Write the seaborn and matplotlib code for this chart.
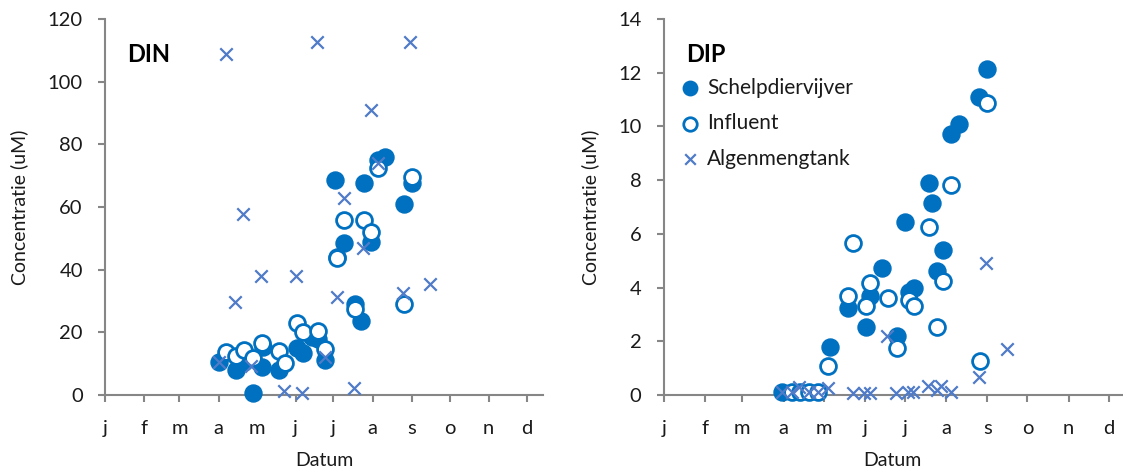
import matplotlib
matplotlib.use("Agg")
import matplotlib.pyplot as plt
import seaborn as sns
import pandas as pd

# ---------------- data (day of year, concentration uM) ----------------
months = ["j", "f", "m", "a", "m", "j", "j", "a", "s", "o", "n", "d"]
month_start = [0, 31, 59, 90, 120, 151, 181, 212, 243, 273, 304, 334]

din_schelp_day = [90, 104, 110, 117.5, 124, 125, 138, 152, 157, 164, 169, 174,
                  182, 184, 189.5, 198, 202.5, 205, 210.4, 216.5, 222, 237, 243]
din_schelp_val = [10.6, 8.0, 10.6, 0.5, 9.0, 15.3, 8.0, 14.9, 13.3, 18.6, 17.8, 11.2,
                  68.6, 44.2, 48.6, 29.0, 23.7, 67.8, 48.9, 75.0, 76.1, 60.8, 67.8]
din_infl_day = [96, 104, 110, 117.5, 124, 138, 142.6, 152, 156.6, 169, 174,
                184, 189.5, 198, 205, 210.4, 216.5, 237, 243]
din_infl_val = [13.8, 12.4, 14.4, 11.7, 16.7, 14.1, 10.1, 22.9, 20.0, 20.5, 14.6,
                43.6, 55.9, 27.3, 55.9, 51.9, 72.6, 28.9, 69.5]
din_algen_day = [90, 95.8, 102.7, 109.6, 116, 123.6, 141.8, 151.5, 155.8, 168, 174,
                 183.5, 189, 197.2, 204.6, 210.4, 216, 236.3, 242, 257.4]
din_algen_val = [10.6, 108.7, 29.8, 57.9, 9.3, 38.1, 1.4, 38.1, 0.7, 112.6, 12.2,
                 31.4, 62.8, 2.3, 47.0, 91.0, 74.2, 32.4, 112.6, 35.4]

dip_schelp_day = [88.5, 124.7, 138, 151.5, 155.2, 163.5, 174.8, 181.5, 184, 188,
                  199, 201.5, 205.5, 209.3, 216, 221.5, 236.7, 242.5]
dip_schelp_val = [0.10, 1.80, 3.25, 2.52, 3.69, 4.74, 2.21, 6.45, 3.85, 3.97,
                  7.88, 7.16, 4.62, 5.40, 9.70, 10.10, 11.10, 12.13]
dip_infl_day = [96, 102.2, 109.2, 116, 123.5, 138.5, 142.2, 151.5, 155.2, 168.5,
                174.8, 184, 188, 199, 205.5, 209.3, 216, 237.2, 242.7]
dip_infl_val = [0.10, 0.10, 0.10, 0.10, 1.07, 3.70, 5.67, 3.31, 4.18, 3.62,
                1.74, 3.54, 3.31, 6.24, 2.52, 4.24, 7.82, 1.28, 10.88]
dip_algen_day = [88.5, 96, 101.7, 109, 116, 123.5, 142.2, 150.5, 154.7, 167.3, 174.2,
                 183.5, 187.2, 198.5, 204.8, 208.5, 215.5, 236.5, 241.7, 257.7]
dip_algen_val = [0.10, 0.10, 0.31, 0.10, 0.10, 0.27, 0.06, 0.06, 0.09, 2.21, 0.06,
                 0.12, 0.12, 0.35, 0.19, 0.35, 0.12, 0.68, 4.93, 1.71]

labels = ["Schelpdiervijver", "Influent", "Algenmengtank"]

# ---------------- style ----------------
sns.set_theme(style="white")
plt.rcParams["font.family"] = ["Lato", "DejaVu Sans"]

BLUE = "#0070C0"
XBLUE = "#4F7BC8"
GRAY = "#868686"
TXT = "#1a1a1a"

fig = plt.figure(figsize=(11.23, 4.73), dpi=100)
ax1 = fig.add_axes([105 / 1123, 78 / 473, 438 / 1123, 376 / 473])
ax2 = fig.add_axes([663.7 / 1123, 78 / 473, 458 / 1123, 376 / 473])


def draw(ax, sd, sv, idd, iv, ad, av, ymax, ystep, xmax, title, legend):
    df_s = pd.DataFrame({"d": sd, "v": sv})
    df_i = pd.DataFrame({"d": idd, "v": iv})
    df_a = pd.DataFrame({"d": ad, "v": av})
    sns.scatterplot(data=df_s, x="d", y="v", ax=ax, marker="o", s=150,
                    color=BLUE, edgecolor=BLUE, linewidth=1, label=labels[0],
                    zorder=3, clip_on=False)
    sns.scatterplot(data=df_i, x="d", y="v", ax=ax, marker="o", s=130,
                    facecolor="white", edgecolor=BLUE, linewidth=2,
                    label=labels[1], zorder=4, clip_on=False)
    sns.scatterplot(data=df_a, x="d", y="v", ax=ax, marker="x", s=80,
                    color=XBLUE, linewidth=1.6, label=labels[2], zorder=5,
                    clip_on=False)
    ax.set_xlim(0, xmax)
    ax.set_ylim(0, ymax)
    ax.set_xticks(month_start)
    ax.set_xticklabels(months)
    ax.set_yticks(list(range(0, ymax + 1, ystep)))
    for side in ["top", "right"]:
        ax.spines[side].set_visible(False)
    for side in ["left", "bottom"]:
        ax.spines[side].set_color(GRAY)
        ax.spines[side].set_linewidth(1.5)
    ax.tick_params(axis="both", which="both", direction="out", length=5,
                   width=1.5, color=GRAY, labelsize=14.5, labelcolor=TXT,
                   bottom=True, left=True)
    ax.tick_params(axis="y", pad=11)
    ax.tick_params(axis="x", pad=13)
    ax.set_xlabel("Datum", fontsize=14, color=TXT, labelpad=11)
    ax.set_ylabel("Concentratie (uM)", fontsize=14, color=TXT, labelpad=14)
    ax.text(0.05, 0.905, title, transform=ax.transAxes, fontsize=17,
            fontweight="bold", ha="left", va="center", color="black")
    if legend:
        leg = ax.legend(loc="upper left", bbox_to_anchor=(0.013, 0.866),
                        frameon=False, fontsize=15, handletextpad=0.2,
                        labelspacing=0.74, borderaxespad=0, handlelength=1.2,
                        markerscale=0.85)
        for t in leg.get_texts():
            t.set_color(TXT)
    else:
        ax.get_legend().remove()


draw(ax1, din_schelp_day, din_schelp_val, din_infl_day, din_infl_val,
     din_algen_day, din_algen_val, 120, 20, 347, "DIN", False)
draw(ax2, dip_schelp_day, dip_schelp_val, dip_infl_day, dip_infl_val,
     dip_algen_day, dip_algen_val, 14, 2, 343.8, "DIP", True)

fig.savefig("out.png", dpi=100, facecolor="white")
